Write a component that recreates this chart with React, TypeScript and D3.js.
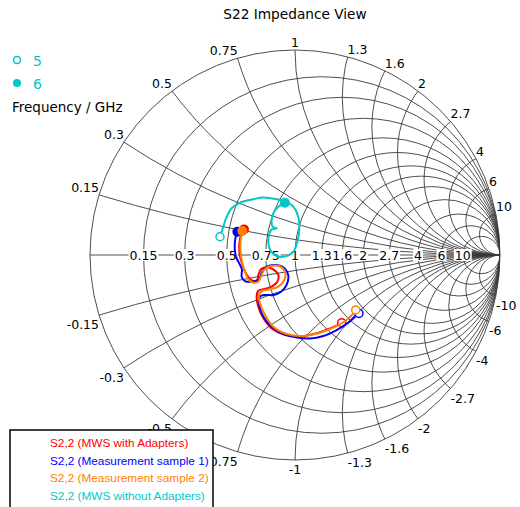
import React, { useEffect, useRef } from 'react';
import * as d3 from 'd3';

const chartTitle = 'S22 Impedance View';
const gridValues = [0.15, 0.3, 0.5, 0.75, 1, 1.3, 1.6, 2, 2.7, 4, 6, 10];
const freqLabels = ['5', '6'];
const freqUnit = 'Frequency / GHz';

// S22 reflection coefficient [re, im], from 5 GHz to 6 GHz
const mwsWithAdapters: [number, number][] = [
  [0.228, -0.330], [0.216, -0.337], [0.171, -0.358], [0.106, -0.382], [0.024, -0.398],
  [-0.049, -0.390], [-0.114, -0.358], [-0.154, -0.309], [-0.179, -0.252], [-0.187, -0.203],
  [-0.179, -0.174], [-0.154, -0.167], [-0.114, -0.154], [-0.086, -0.130], [-0.081, -0.098],
  [-0.106, -0.070], [-0.141, -0.060], [-0.166, -0.070], [-0.179, -0.098], [-0.184, -0.122],
  [-0.200, -0.127], [-0.222, -0.114], [-0.239, -0.090], [-0.252, -0.060], [-0.268, -0.008],
  [-0.272, 0.049], [-0.263, 0.098], [-0.249, 0.125],
];
const measurement1: [number, number][] = [
  [0.312, -0.285], [0.293, -0.301], [0.260, -0.330], [0.203, -0.366], [0.138, -0.395],
  [0.073, -0.407], [0.008, -0.402], [-0.057, -0.385], [-0.114, -0.350], [-0.154, -0.301],
  [-0.174, -0.244], [-0.171, -0.203], [-0.146, -0.195], [-0.106, -0.195], [-0.068, -0.179],
  [-0.041, -0.146], [-0.033, -0.098], [-0.057, -0.060], [-0.098, -0.049], [-0.138, -0.057],
  [-0.163, -0.086], [-0.174, -0.119], [-0.211, -0.130], [-0.244, -0.127], [-0.260, -0.106],
  [-0.259, -0.070], [-0.272, -0.041], [-0.288, -0.008], [-0.294, 0.033], [-0.291, 0.081],
  [-0.281, 0.114],
];
const measurement2: [number, number][] = [
  [0.296, -0.268], [0.285, -0.285], [0.252, -0.317], [0.195, -0.350], [0.122, -0.379],
  [0.041, -0.395], [-0.041, -0.385], [-0.106, -0.350], [-0.146, -0.293], [-0.171, -0.236],
  [-0.176, -0.195], [-0.158, -0.174], [-0.122, -0.167], [-0.081, -0.154], [-0.052, -0.122],
  [-0.049, -0.081], [-0.076, -0.055], [-0.119, -0.054], [-0.151, -0.073], [-0.166, -0.106],
  [-0.179, -0.130], [-0.203, -0.135], [-0.228, -0.119], [-0.242, -0.086], [-0.255, -0.049],
  [-0.263, -0.005], [-0.267, 0.041], [-0.263, 0.086], [-0.257, 0.117],
];
const mwsWithoutAdapters: [number, number][] = [
  [-0.366, 0.089], [-0.350, 0.138], [-0.333, 0.187], [-0.309, 0.228], [-0.268, 0.255],
  [-0.203, 0.272], [-0.155, 0.281], [-0.089, 0.272], [-0.040, 0.258], [-0.008, 0.236],
  [0.016, 0.187], [0.021, 0.122], [0.011, 0.065], [-0.008, 0.016], [-0.049, -0.008],
  [-0.089, -0.005], [-0.119, 0.021], [-0.130, 0.057], [-0.127, 0.098], [-0.114, 0.125],
  [-0.089, 0.130], [-0.109, 0.138], [-0.114, 0.171], [-0.102, 0.211], [-0.077, 0.239],
  [-0.049, 0.255],
];

const seriesNames = [
  'S2,2 (MWS with Adapters)',
  'S2,2 (Measurement sample 1)',
  'S2,2 (Measurement sample 2)',
  'S2,2 (MWS without Adapters)',
];
const seriesData = [mwsWithAdapters, measurement1, measurement2, mwsWithoutAdapters];
const seriesColors = ['#ff0000', '#0000ff', '#ff8000', '#00c8c8'];

const fmt = (v: number) => String(v);

const SmithChart = () => {
  const chartRef = useRef<SVGSVGElement | null>(null);

  useEffect(() => {
    const W = 520;
    const H = 507;
    const font = 'DejaVu Sans, Verdana, sans-serif';

    const svg = d3.select(chartRef.current);
    svg.selectAll('*').remove();
    svg.attr('width', W).attr('height', H).style('font-family', font);

    const x = d3.scaleLinear().domain([-1, 1]).range([90, 500]);
    const y = d3.scaleLinear().domain([-1, 1]).range([460, 50]);
    const R = x(1) - x(0);

    svg.append('defs').append('clipPath').attr('id', 'unit')
      .append('circle').attr('cx', x(0)).attr('cy', y(0)).attr('r', R);

    // grid: constant resistance circles and reactance arcs
    const grid = svg.append('g')
      .attr('clip-path', 'url(#unit)')
      .attr('fill', 'none')
      .attr('stroke', '#3a3a3a')
      .attr('stroke-width', 0.9);

    gridValues.forEach(r => {
      grid.append('circle')
        .attr('cx', x(r / (1 + r)))
        .attr('cy', y(0))
        .attr('r', x(1 / (1 + r)) - x(0));
    });
    gridValues.forEach(v => {
      [v, -v].forEach(s => {
        grid.append('circle')
          .attr('cx', x(1))
          .attr('cy', y(1 / s))
          .attr('r', Math.abs(y(1 / s) - y(0)));
      });
    });

    svg.append('line')
      .attr('x1', x(-1)).attr('x2', x(1))
      .attr('y1', y(0)).attr('y2', y(0))
      .attr('stroke', '#3a3a3a').attr('stroke-width', 0.9);

    svg.append('circle')
      .attr('cx', x(0)).attr('cy', y(0)).attr('r', R)
      .attr('fill', 'none').attr('stroke', '#3a3a3a').attr('stroke-width', 0.9);

    // labels on the real axis, with a white box behind
    const axisLabels = svg.append('g').attr('font-size', 12.5);
    gridValues.forEach(r => {
      const g = axisLabels.append('g');
      const t = g.append('text')
        .attr('x', x((r - 1) / (r + 1)))
        .attr('y', y(0) + 4.5)
        .attr('text-anchor', 'middle')
        .attr('fill', '#000')
        .text(fmt(r));
      const bb = (t.node() as SVGTextElement).getBBox();
      g.insert('rect', 'text')
        .attr('x', bb.x - 1).attr('y', y(0) - 6)
        .attr('width', bb.width + 2).attr('height', 12)
        .attr('fill', '#fff');
    });

    // reactance labels round the outer circle
    const rimLabels = svg.append('g').attr('font-size', 12.5).attr('fill', '#000');
    gridValues.forEach(v => {
      const th = Math.PI - 2 * Math.atan(v);
      const px = x(Math.cos(th));
      const anchor = v < 1 ? 'end' : v > 1 ? 'start' : 'middle';
      rimLabels.append('text')
        .attr('x', px).attr('y', y(Math.sin(th)) - 3)
        .attr('text-anchor', anchor)
        .text(fmt(v));
      rimLabels.append('text')
        .attr('x', px).attr('y', y(-Math.sin(th)) + 14)
        .attr('text-anchor', anchor)
        .text('-' + fmt(v));
    });

    // curves
    const line = d3.line<[number, number]>()
      .x(d => x(d[0]))
      .y(d => y(d[1]))
      .curve(d3.curveCatmullRom.alpha(0.5));

    seriesData.forEach((data, i) => {
      const c = seriesColors[i];
      svg.append('path')
        .datum(data)
        .attr('fill', 'none')
        .attr('stroke', c)
        .attr('stroke-width', 2)
        .attr('stroke-linejoin', 'round')
        .attr('d', line);
      const first = data[0];
      const last = data[data.length - 1];
      svg.append('circle')
        .attr('cx', x(first[0])).attr('cy', y(first[1])).attr('r', 4)
        .attr('fill', '#fff').attr('stroke', c).attr('stroke-width', 1.5);
      svg.append('circle')
        .attr('cx', x(last[0])).attr('cy', y(last[1])).attr('r', 5)
        .attr('fill', c);
    });

    svg.append('text')
      .attr('x', 295).attr('y', 19)
      .attr('text-anchor', 'middle')
      .attr('font-size', 13.7)
      .text(chartTitle);

    // frequency marker key
    const key = svg.append('g');
    key.append('circle').attr('cx', 17).attr('cy', 60).attr('r', 3.5)
      .attr('fill', '#fff').attr('stroke', seriesColors[3]).attr('stroke-width', 1.5);
    key.append('circle').attr('cx', 17).attr('cy', 83).attr('r', 4)
      .attr('fill', seriesColors[3]);
    freqLabels.forEach((f, i) => {
      key.append('text').attr('x', 33).attr('y', 66 + i * 23)
        .attr('font-size', 14).attr('fill', seriesColors[3]).text(f);
    });
    key.append('text').attr('x', 12).attr('y', 112)
      .attr('font-size', 13.5).text(freqUnit);

    // legend box
    const legend = svg.append('g');
    legend.append('rect')
      .attr('x', 10).attr('y', 430).attr('width', 203).attr('height', 90)
      .attr('fill', '#fff').attr('stroke', '#000').attr('stroke-width', 1.5);
    seriesNames.forEach((n, i) => {
      legend.append('text')
        .attr('x', 50).attr('y', 447 + i * 17.5)
        .attr('font-family', 'Liberation Sans, Arial, sans-serif')
        .attr('font-size', 11.8)
        .attr('fill', seriesColors[i])
        .text(n);
    });
  }, []);

  return <svg ref={chartRef} style={{ position: 'absolute', left: 0, top: 0 }} />;
};

export default function App() {
  return <SmithChart />;
}
